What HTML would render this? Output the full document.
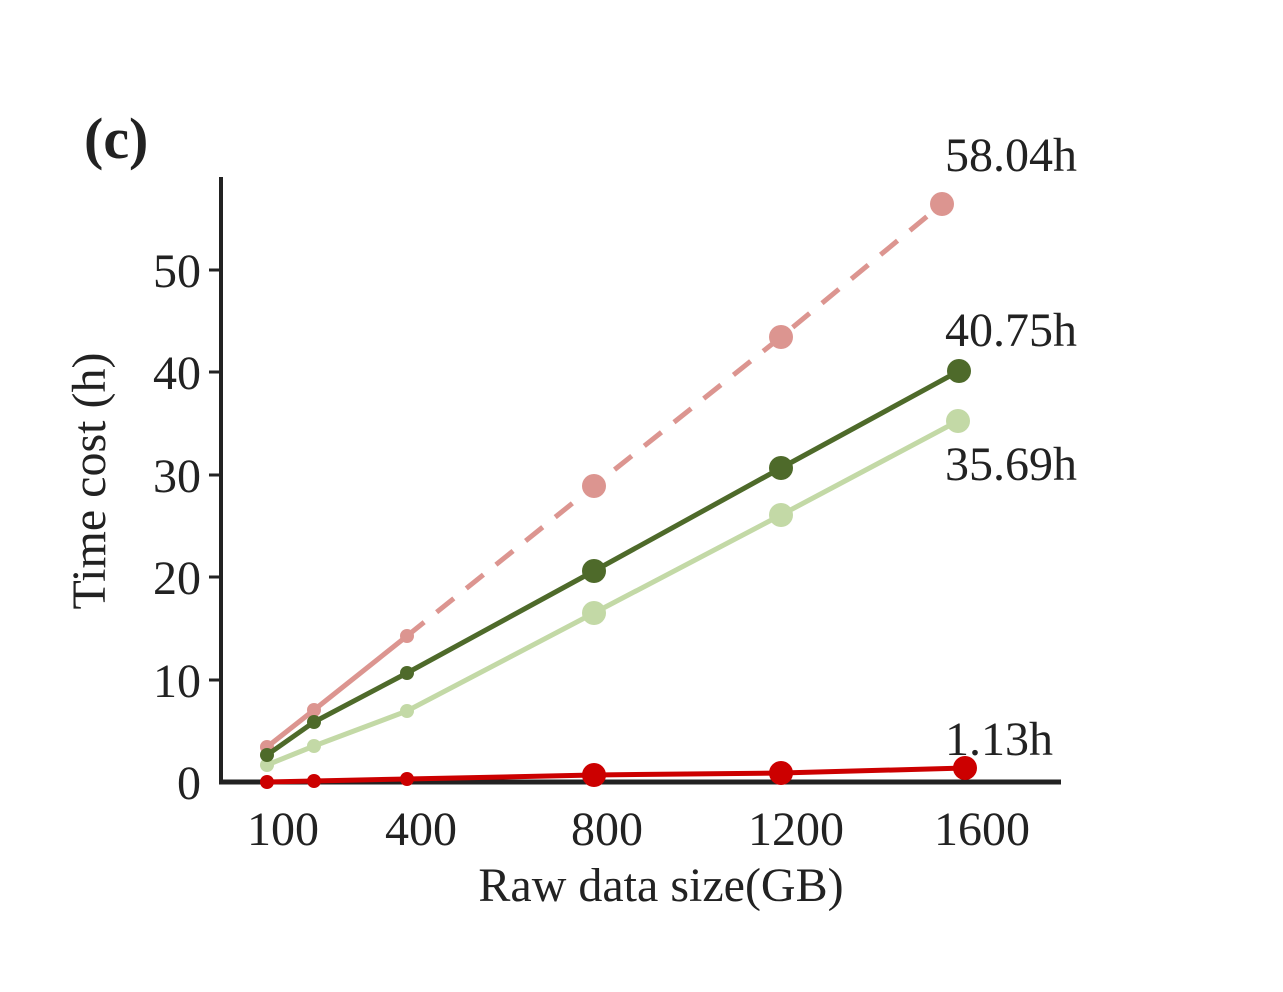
<!DOCTYPE html>
<html><head><meta charset="utf-8"><style>
html,body{margin:0;padding:0;background:#fff;}
svg{display:block;}
text{font-family:"Liberation Serif",serif;fill:#222;}
</style></head><body>
<svg width="1283" height="992" viewBox="0 0 1283 992" xmlns="http://www.w3.org/2000/svg">
<rect width="1283" height="992" fill="#fff"/>
<text x="84" y="158" font-size="58" font-weight="bold">(c)</text>
<line x1="221" y1="177" x2="221" y2="784" stroke="#222" stroke-width="4"/>
<line x1="219" y1="782" x2="1061" y2="782" stroke="#222" stroke-width="5"/>
<g stroke="#222" stroke-width="3">
<line x1="209" y1="680" x2="221" y2="680"/>
<line x1="209" y1="577" x2="221" y2="577"/>
<line x1="209" y1="475" x2="221" y2="475"/>
<line x1="209" y1="372" x2="221" y2="372"/>
<line x1="209" y1="270" x2="221" y2="270"/>
</g>
<g font-size="48" text-anchor="end">
<text x="201" y="799">0</text>
<text x="201" y="697">10</text>
<text x="201" y="594">20</text>
<text x="201" y="492">30</text>
<text x="201" y="389">40</text>
<text x="201" y="287">50</text>
</g>
<g font-size="48" text-anchor="middle">
<text x="283" y="845">100</text>
<text x="421" y="845">400</text>
<text x="607" y="845">800</text>
<text x="796" y="845">1200</text>
<text x="982" y="845">1600</text>
</g>
<text x="661" y="901" font-size="48" text-anchor="middle">Raw data size(GB)</text>
<text transform="translate(105,481) rotate(-90)" font-size="48" text-anchor="middle">Time cost (h)</text>
<polyline points="267,747 314,710 407,636" fill="none" stroke="#dc9590" stroke-width="5"/>
<polyline points="407,636 594,486 781,337 942,204" fill="none" stroke="#dc9590" stroke-width="5" stroke-dasharray="22,16"/>
<g fill="#dc9590">
<circle cx="267" cy="747" r="7"/><circle cx="314" cy="710" r="7"/><circle cx="407" cy="636" r="7"/>
<circle cx="594" cy="486" r="12"/><circle cx="781" cy="337" r="12"/><circle cx="942" cy="204" r="12"/>
</g>
<polyline points="267,765 314,746 407,711 594,613 781,515 958,421" fill="none" stroke="#c3d9a6" stroke-width="5"/>
<g fill="#c3d9a6">
<circle cx="267" cy="765" r="7"/><circle cx="314" cy="746" r="7"/><circle cx="407" cy="711" r="7"/>
<circle cx="594" cy="613" r="12"/><circle cx="781" cy="515" r="12"/><circle cx="958" cy="421" r="12"/>
</g>
<polyline points="267,755 314,722 407,673 594,571 781,468 959,371" fill="none" stroke="#4e6a2a" stroke-width="5"/>
<g fill="#4e6a2a">
<circle cx="267" cy="755" r="7"/><circle cx="314" cy="722" r="7"/><circle cx="407" cy="673" r="7"/>
<circle cx="594" cy="571" r="12"/><circle cx="781" cy="468" r="12"/><circle cx="959" cy="371" r="12"/>
</g>
<polyline points="267,782 314,781 407,779 594,775 781,773 965,768" fill="none" stroke="#cc0000" stroke-width="5"/>
<g fill="#cc0000">
<circle cx="267" cy="782" r="7"/><circle cx="314" cy="781" r="7"/><circle cx="407" cy="779" r="7"/>
<circle cx="594" cy="775" r="12"/><circle cx="781" cy="773" r="12"/><circle cx="965" cy="768" r="12"/>
</g>
<g font-size="48">
<text x="945" y="171">58.04h</text>
<text x="945" y="346">40.75h</text>
<text x="945" y="480">35.69h</text>
<text x="945" y="755">1.13h</text>
</g>
</svg>
</body></html>
